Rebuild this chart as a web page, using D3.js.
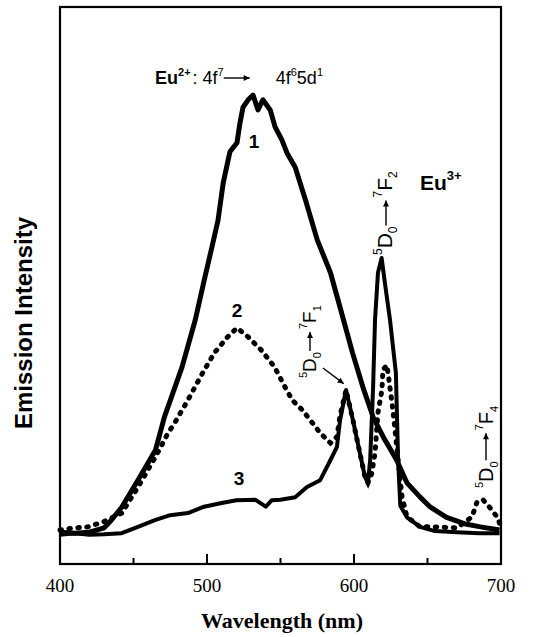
<!DOCTYPE html>
<html lang="en">
<head>
  <meta charset="UTF-8">
  <title>Eu emission spectra</title>
  <script src="https://d3js.org/d3.v7.min.js"></script>
  <style>
    body { margin: 0; padding: 0; background: #fff; }
    svg { display: block; font-family: "Liberation Sans", Arial, sans-serif; }
    .tick-label { font-family: "Liberation Serif", "Times New Roman", serif; font-size: 19px; }
    .x-title { font-family: "Liberation Serif", "Times New Roman", serif; font-size: 22px; font-weight: bold; }
  </style>
</head>
<body>
  <svg width="533" height="637"></svg>
  <script>
    // wavelength (nm) / intensity (a.u.)
    const nm1 = [400, 410, 420, 430, 435, 442, 453, 465, 471, 483, 492, 498.6, 503.4, 507.5, 511, 515.6, 520.4, 522.4, 524.5, 528, 531.3, 534.7, 538, 543, 546.3, 551, 554.4, 560, 567, 575, 584, 590.5, 599, 606, 613, 620, 629, 636, 645, 652, 663, 675, 686, 699];
    const int1 = [1.0, 0.8, 1.0, 1.8, 3.3, 5.7, 10.8, 16.5, 22.7, 32.1, 41.0, 49.1, 54.8, 59.8, 66.8, 72.7, 74.4, 78.1, 81.1, 82.5, 83.4, 80.6, 82.5, 80.6, 77.4, 74.9, 72.5, 69.8, 63.6, 56.1, 49.9, 43.4, 34.8, 28.4, 22.7, 18.9, 14.6, 10.3, 7.6, 5.7, 3.8, 2.6, 2.0, 1.4];

    const nm2 = [400, 410, 419, 430, 442, 453, 465, 473.5, 478, 487, 497, 505, 514, 520.4, 528, 537, 546, 553, 558, 565, 577, 584, 588.4, 590.5, 594.6, 599.3, 604, 607.5, 609.5, 612, 614.3, 616.3, 619, 619.7, 622.4, 625.9, 627.9, 630, 632.7, 636, 645, 655, 670, 680.3, 683.7, 687.8, 692.5, 697.3, 699.3];
    const int2 = [1.4, 1.8, 2.0, 3.0, 4.6, 9.5, 15.2, 19.7, 21.6, 25.9, 31.0, 34.8, 37.8, 39.5, 37.8, 35.3, 32.1, 28.4, 25.9, 24.0, 19.7, 17.8, 19.0, 23.0, 27.8, 22.1, 15.9, 11.4, 10.3, 12.0, 15.9, 23.5, 27.8, 31.6, 32.5, 25.3, 20.3, 14.6, 7.6, 3.9, 2.0, 2.0, 1.8, 3.9, 6.7, 7.1, 5.6, 3.9, 2.5];

    const nm3 = [400, 410, 420, 430, 442, 453, 465, 475, 487, 498, 510, 520, 533, 540, 544, 550, 560, 568, 577, 584, 588.4, 590.5, 594.6, 599.3, 604, 607.5, 609.5, 611, 613, 614.3, 616.3, 618.8, 621, 624.5, 628.5, 630, 631.5, 636, 645, 655, 670, 685, 699];
    const int3 = [0.5, 0.8, 0.5, 0.6, 0.8, 2.0, 3.3, 4.2, 4.6, 5.8, 6.5, 7.0, 7.1, 5.8, 7.0, 7.1, 7.6, 9.5, 10.8, 14.6, 17.1, 22.1, 27.8, 22.1, 15.9, 11.4, 10.3, 14.6, 28.4, 41.0, 49.9, 52.7, 48.0, 41.0, 31.0, 14.6, 6.0, 3.8, 2.0, 1.2, 1.0, 0.8, 0.8];

    const majorTicks = [400, 500, 600, 700];
    const minorTicks = [450, 550, 650];

    const svg = d3.select("svg");
    const x = d3.scaleLinear().domain([400, 700]).range([60, 501]);
    const y = d3.scaleLinear().domain([-5, 100]).range([564, 7]);

    const defs = svg.append("defs");
    defs.append("marker")
      .attr("id", "ah")
      .attr("viewBox", "0 0 10 10")
      .attr("refX", 10).attr("refY", 5)
      .attr("markerUnits", "userSpaceOnUse")
      .attr("markerWidth", 8).attr("markerHeight", 6)
      .attr("orient", "auto")
      .append("path").attr("d", "M0,0 L10,5 L0,10 Z").attr("fill", "#000");

    const line = d3.line().x(d => x(d[0])).y(d => y(d[1]));
    const zip = (a, b) => a.map((v, i) => [v, b[i]]);

    // curves
    svg.append("path").datum(zip(nm1, int1)).attr("d", line)
      .attr("fill", "none").attr("stroke", "#000").attr("stroke-width", 5).attr("stroke-linejoin", "round");
    svg.append("path").datum(zip(nm3, int3)).attr("d", line)
      .attr("fill", "none").attr("stroke", "#000").attr("stroke-width", 4).attr("stroke-linejoin", "round");
    svg.append("path").datum(zip(nm2, int2)).attr("d", line)
      .attr("fill", "none").attr("stroke", "#000").attr("stroke-width", 5)
      .attr("stroke-linecap", "round").attr("stroke-dasharray", "1.5 7.5");

    // frame
    svg.append("rect").attr("x", 60).attr("y", 7).attr("width", 441).attr("height", 557)
      .attr("fill", "none").attr("stroke", "#000").attr("stroke-width", 2.2);

    // inward ticks
    const xAxis = svg.append("g").attr("transform", "translate(0,564)");
    xAxis.selectAll(".major").data(majorTicks).enter().append("line")
      .attr("x1", d => x(d)).attr("x2", d => x(d)).attr("y1", 0).attr("y2", -10)
      .attr("stroke", "#000").attr("stroke-width", 2);
    xAxis.selectAll(".minor").data(minorTicks).enter().append("line")
      .attr("x1", d => x(d)).attr("x2", d => x(d)).attr("y1", 0).attr("y2", -6)
      .attr("stroke", "#000").attr("stroke-width", 2);
    xAxis.selectAll(".tick-label").data(majorTicks).enter().append("text")
      .attr("class", "tick-label").attr("x", d => x(d)).attr("y", 28)
      .attr("text-anchor", "middle").text(d => d);

    svg.append("text").attr("class", "x-title").attr("x", 282).attr("y", 628)
      .attr("text-anchor", "middle").text("Wavelength (nm)");

    svg.append("text").attr("transform", "translate(32,323) rotate(-90)")
      .attr("text-anchor", "middle").attr("font-size", 24).attr("font-weight", "bold")
      .text("Emission Intensity");

    // composed labels with super/subscripts and arrows
    function label(px, py, angle, pieces) {
      const g = svg.append("g").attr("transform", `translate(${px},${py}) rotate(${angle})`);
      let cx = 0;
      pieces.forEach(p => {
        if (p.arrow) {
          g.append("line").attr("x1", cx).attr("x2", cx + p.arrow)
            .attr("y1", p.dy).attr("y2", p.dy)
            .attr("stroke", "#000").attr("stroke-width", 1.4).attr("marker-end", "url(#ah)");
          cx += p.arrow + (p.gap || 0);
          return;
        }
        const t = g.append("text").attr("x", cx).attr("y", p.dy || 0)
          .attr("font-size", p.size).attr("font-weight", p.bold ? "bold" : "normal").text(p.t);
        cx += t.node().getComputedTextLength() + (p.gap || 0);
      });
    }

    label(155, 84, 0, [
      { t: "Eu", size: 18, bold: true },
      { t: "2+", size: 11, bold: true, dy: -8, gap: 2 },
      { t: ": 4f", size: 18 },
      { t: "7", size: 11, dy: -8 },
      { arrow: 26, dy: -6, gap: 26 },
      { t: "4f", size: 18 },
      { t: "6", size: 11, dy: -8 },
      { t: "5d", size: 18 },
      { t: "1", size: 11, dy: -8 }
    ]);

    label(420, 190, 0, [
      { t: "Eu", size: 21, bold: true },
      { t: "3+", size: 13, bold: true, dy: -10 }
    ]);

    label(392, 255, -90, [
      { t: "5", size: 12, dy: -10 },
      { t: "D", size: 21 },
      { t: "0", size: 12, dy: 5, gap: 1 },
      { arrow: 25, dy: -6, gap: 3 },
      { t: "7", size: 12, dy: -10 },
      { t: "F", size: 21 },
      { t: "2", size: 12, dy: 5 }
    ]);

    label(316, 378, -90, [
      { t: "5", size: 11, dy: -9 },
      { t: "D", size: 19 },
      { t: "0", size: 11, dy: 5, gap: 1 },
      { arrow: 19, dy: -6, gap: 3 },
      { t: "7", size: 11, dy: -9 },
      { t: "F", size: 19 },
      { t: "1", size: 11, dy: 5 }
    ]);

    label(493, 488, -90, [
      { t: "5", size: 11, dy: -10 },
      { t: "D", size: 20 },
      { t: "0", size: 11, dy: 5, gap: 1 },
      { arrow: 27, dy: -7, gap: 3 },
      { t: "7", size: 11, dy: -10 },
      { t: "F", size: 20 },
      { t: "4", size: 11, dy: 5 }
    ]);

    // pointer from 5D0-7F1 label to its peak
    svg.append("line").attr("x1", 323).attr("y1", 368).attr("x2", x(593)).attr("y2", y(29))
      .attr("stroke", "#000").attr("stroke-width", 1.3).attr("marker-end", "url(#ah)");

    // curve numbers
    svg.selectAll(".num").data([["1", 254, 148], ["2", 237, 317], ["3", 239, 485]]).enter()
      .append("text").attr("x", d => d[1]).attr("y", d => d[2])
      .attr("text-anchor", "middle").attr("font-size", 19).attr("font-weight", "bold")
      .text(d => d[0]);
  </script>
</body>
</html>
